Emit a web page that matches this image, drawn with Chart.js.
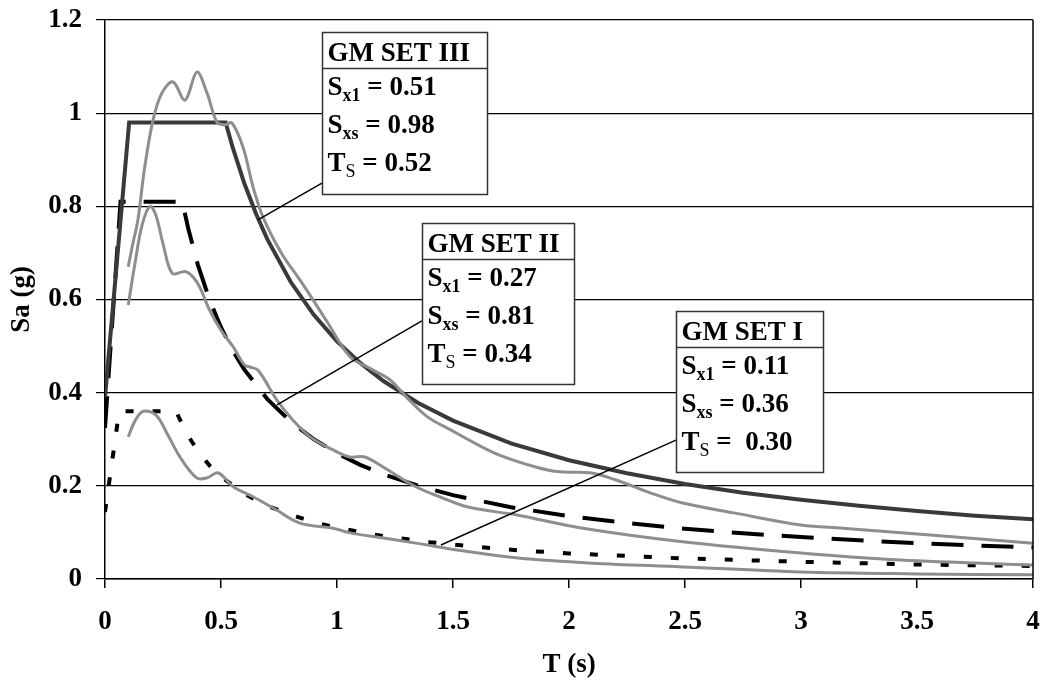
<!DOCTYPE html>
<html>
<head>
<meta charset="utf-8">
<script src="https://cdn.jsdelivr.net/npm/chart.js@4.4.0/dist/chart.umd.min.js"></script>
<style>
  html, body { margin: 0; padding: 0; background: #fff; }
  #wrap { width: 1048px; height: 685px; }
</style>
</head>
<body>
<div id="wrap"><canvas id="spectra"></canvas></div>
<script>
/* design spectra */
const setIIIPeriods = [0, 0.104, 0.52, 0.55, 0.6, 0.65, 0.7, 0.8, 0.9, 1.0, 1.1, 1.2, 1.35, 1.5, 1.75, 2.0, 2.25, 2.5, 2.75, 3.0, 3.25, 3.5, 3.75, 4.0];
const setIIIDesign  = [0.39, 0.98, 0.98, 0.927, 0.85, 0.785, 0.729, 0.638, 0.567, 0.51, 0.464, 0.425, 0.378, 0.34, 0.291, 0.255, 0.227, 0.204, 0.185, 0.17, 0.157, 0.146, 0.136, 0.128];

const setIIPeriods = [0, 0.067, 0.333, 0.36, 0.4, 0.45, 0.5, 0.55, 0.6, 0.7, 0.8, 0.9, 1.0, 1.1, 1.2, 1.35, 1.5, 1.75, 2.0, 2.25, 2.5, 2.75, 3.0, 3.25, 3.5, 3.75, 4.0];
const setIIDesign  = [0.324, 0.81, 0.81, 0.75, 0.675, 0.6, 0.54, 0.491, 0.45, 0.386, 0.338, 0.3, 0.27, 0.245, 0.225, 0.2, 0.18, 0.154, 0.135, 0.12, 0.108, 0.098, 0.09, 0.083, 0.077, 0.072, 0.068];

const setIPeriods = [0, 0.061, 0.306, 0.35, 0.4, 0.45, 0.5, 0.6, 0.7, 0.8, 0.9, 1.0, 1.2, 1.4, 1.6, 1.8, 2.0, 2.5, 3.0, 3.5, 4.0];
const setIDesign  = [0.144, 0.36, 0.36, 0.314, 0.275, 0.244, 0.22, 0.183, 0.157, 0.138, 0.122, 0.11, 0.092, 0.079, 0.069, 0.061, 0.055, 0.044, 0.037, 0.031, 0.028];

/* mean ground motion spectra */
const setIIIMeanPeriods = [0.1, 0.12, 0.142, 0.17, 0.207, 0.245, 0.293, 0.345, 0.396, 0.44, 0.482, 0.515, 0.547, 0.595, 0.638, 0.681, 0.76, 0.84, 0.897, 0.96, 1.056, 1.15, 1.23, 1.3, 1.39, 1.49, 1.6, 1.7, 1.86, 1.96, 2.09, 2.2, 2.35, 2.49, 2.71, 3.0, 3.18, 3.57, 4.0];
const setIIIMean        = [0.67, 0.72, 0.771, 0.88, 0.985, 1.043, 1.067, 1.028, 1.088, 1.043, 0.981, 0.975, 0.979, 0.927, 0.842, 0.777, 0.70, 0.642, 0.599, 0.55, 0.477, 0.45, 0.427, 0.39, 0.348, 0.32, 0.29, 0.266, 0.24, 0.23, 0.228, 0.213, 0.185, 0.163, 0.142, 0.116, 0.109, 0.094, 0.077];

const setIIMeanPeriods = [0.1, 0.13, 0.16, 0.194, 0.22, 0.25, 0.29, 0.345, 0.38, 0.41, 0.45, 0.5, 0.553, 0.6, 0.625, 0.66, 0.741, 0.81, 0.884, 0.983, 1.056, 1.12, 1.2, 1.34, 1.45, 1.56, 1.78, 2.06, 2.49, 3.0, 3.43, 4.0];
const setIIMean        = [0.588, 0.68, 0.76, 0.80, 0.78, 0.72, 0.656, 0.66, 0.648, 0.625, 0.578, 0.534, 0.498, 0.46, 0.455, 0.448, 0.384, 0.341, 0.305, 0.277, 0.262, 0.262, 0.24, 0.198, 0.175, 0.155, 0.137, 0.109, 0.08, 0.056, 0.041, 0.03];

const setIMeanPeriods = [0.1, 0.13, 0.165, 0.22, 0.267, 0.323, 0.395, 0.44, 0.487, 0.553, 0.64, 0.74, 0.84, 0.983, 1.056, 1.2, 1.34, 1.55, 1.78, 2.1, 2.49, 3.0, 3.5, 4.0];
const setIMean        = [0.305, 0.34, 0.36, 0.352, 0.313, 0.262, 0.217, 0.217, 0.228, 0.198, 0.176, 0.148, 0.12, 0.109, 0.099, 0.088, 0.077, 0.06, 0.045, 0.034, 0.026, 0.015, 0.011, 0.009];

/* boxes: title + rows of [letter, subscript, rest] */
const boxTitles = ['GM SET III', 'GM SET II', 'GM SET I'];
const boxRows = [
  [['S', 'x1', ' = 0.51'], ['S', 'xs', ' = 0.98'], ['T', 'S', ' = 0.52']],
  [['S', 'x1', ' = 0.27'], ['S', 'xs', ' = 0.81'], ['T', 'S', ' = 0.34']],
  [['S', 'x1', ' = 0.11'], ['S', 'xs', ' = 0.36'], ['T', 'S', ' =  0.30']]
];
// top-left corner of each box and its leader line, in data units
const boxCorners = [[0.935, 1.174], [1.366, 0.764], [2.461, 0.575]];
const leaderStarts = [[0.935, 0.850], [1.366, 0.554], [2.461, 0.298]];
const leaderEnds = [[0.659, 0.771], [0.741, 0.374], [1.448, 0.073]];

const xTitle = 'T (s)';
const yTitle = 'Sa (g)';

const serif = "'Liberation Serif', 'Times New Roman', serif";

const toPoints = (xs, ys) => xs.map((x, i) => ({ x: x, y: ys[i] }));
const plainNumber = v => String(Number(v.toFixed(2)));

const boxSizes = [[165, 162], [152, 161], [147, 161]];

const boxesPlugin = {
  id: 'gmBoxes',
  afterDraw(chart) {
    const ctx = chart.ctx;
    const xs = chart.scales.x;
    const ys = chart.scales.y;
    const area = chart.chartArea;

    // right frame edge
    ctx.save();
    ctx.strokeStyle = '#000';
    ctx.lineWidth = 1.5;
    ctx.beginPath();
    ctx.moveTo(area.right, area.top);
    ctx.lineTo(area.right, area.bottom);
    ctx.stroke();

    boxTitles.forEach((title, i) => {
      // leader line
      ctx.strokeStyle = '#000';
      ctx.lineWidth = 1.5;
      ctx.beginPath();
      ctx.moveTo(xs.getPixelForValue(leaderStarts[i][0]), ys.getPixelForValue(leaderStarts[i][1]));
      ctx.lineTo(xs.getPixelForValue(leaderEnds[i][0]), ys.getPixelForValue(leaderEnds[i][1]));
      ctx.stroke();

      const left = Math.round(xs.getPixelForValue(boxCorners[i][0])) + 0.5;
      const top = Math.round(ys.getPixelForValue(boxCorners[i][1])) + 0.5;
      const w = boxSizes[i][0], h = boxSizes[i][1];
      ctx.fillStyle = '#fff';
      ctx.fillRect(left, top, w, h);
      ctx.strokeStyle = '#333';
      ctx.lineWidth = 1.5;
      ctx.strokeRect(left, top, w, h);
      ctx.beginPath();
      ctx.moveTo(left, top + 36);
      ctx.lineTo(left + w, top + 36);
      ctx.stroke();

      ctx.fillStyle = '#000';
      ctx.textBaseline = 'alphabetic';
      ctx.textAlign = 'left';
      ctx.font = 'bold 27px ' + serif;
      ctx.fillText(title, left + 5, top + 28);

      boxRows[i].forEach((row, r) => {
        const base = top + 62 + r * 38;
        let x = left + 5;
        ctx.font = 'bold 27px ' + serif;
        ctx.fillText(row[0], x, base);
        x += ctx.measureText(row[0]).width;
        ctx.font = (row[1] === 'S' ? '' : 'bold ') + '18px ' + serif;
        ctx.fillText(row[1], x, base + 6);
        x += ctx.measureText(row[1]).width;
        ctx.font = 'bold 27px ' + serif;
        ctx.fillText(row[2], x, base);
      });
    });
    ctx.restore();
  }
};

Chart.defaults.font.family = serif;
Chart.defaults.color = '#000';

const tickFont = { family: serif, size: 27, weight: 'bold' };

new Chart(document.getElementById('spectra'), {
  type: 'line',
  data: {
    datasets: [
      { data: toPoints(setIIIMeanPeriods, setIIIMean), borderColor: '#8e8e8e', borderWidth: 3, tension: 0.35 },
      { data: toPoints(setIIMeanPeriods, setIIMean), borderColor: '#8e8e8e', borderWidth: 3, tension: 0.35 },
      { data: toPoints(setIMeanPeriods, setIMean), borderColor: '#8e8e8e', borderWidth: 3, tension: 0.35 },
      { data: toPoints(setIIIPeriods, setIIIDesign), borderColor: '#3a3a3a', borderWidth: 4 },
      { data: toPoints(setIIPeriods, setIIDesign), borderColor: '#000', borderWidth: 4, borderDash: [32, 18] },
      { data: toPoints(setIPeriods, setIDesign), borderColor: '#000', borderWidth: 4, borderDash: [8, 19] }
    ]
  },
  options: {
    responsive: true,
    maintainAspectRatio: false,
    animation: false,
    devicePixelRatio: 1,
    layout: { padding: { top: 20, right: 15, left: 0, bottom: 0 } },
    elements: { point: { radius: 0 }, line: { fill: false, borderCapStyle: 'butt' } },
    plugins: { legend: { display: false }, tooltip: { enabled: false } },
    scales: {
      x: {
        type: 'linear',
        min: 0,
        max: 4,
        ticks: { stepSize: 0.5, font: tickFont, padding: 18, maxRotation: 0, callback: plainNumber },
        grid: { drawOnChartArea: false, color: '#000', lineWidth: 1.5, tickLength: 9 },
        border: { color: '#000', width: 1.5 },
        title: { display: true, text: xTitle, font: tickFont, padding: { bottom: 4 } },
        afterFit: s => { s.height = 106; s.paddingLeft = 0; s.paddingRight = 0; }
      },
      y: {
        min: 0,
        max: 1.2,
        ticks: { stepSize: 0.2, font: tickFont, padding: 14, callback: plainNumber },
        grid: { color: '#000', lineWidth: 1.2, tickLength: 9 },
        border: { color: '#000', width: 1.5 },
        title: { display: true, text: yTitle, font: tickFont, padding: { top: 6 } },
        afterFit: s => { s.width = 105; s.paddingTop = 0; s.paddingBottom = 0; }
      }
    }
  },
  plugins: [boxesPlugin]
});
</script>
</body>
</html>
